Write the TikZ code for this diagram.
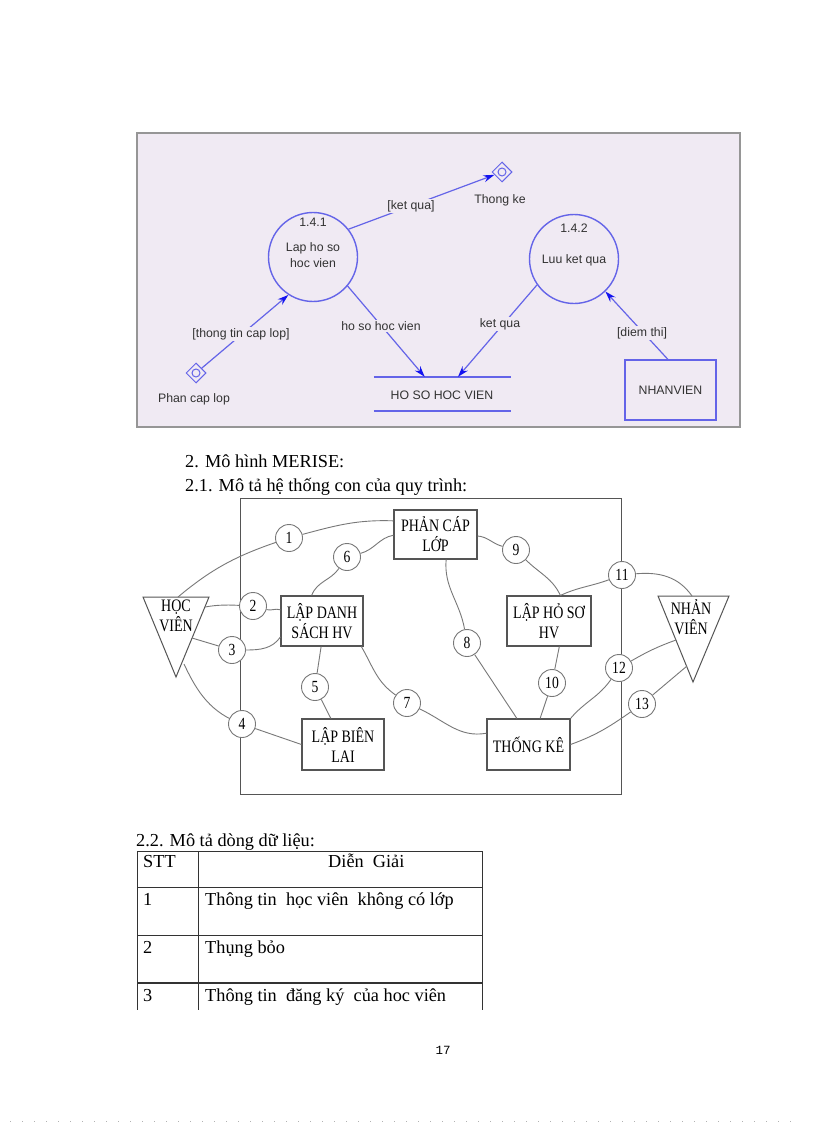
\documentclass[tikz,border=0pt]{standalone}
\usepackage{fontspec}
\setmainfont{Liberation Serif}
\newfontfamily\arialf{Liberation Sans}
\newfontfamily\courf{Liberation Mono}
\usetikzlibrary{shapes.geometric,arrows.meta}

\definecolor{bgp}{RGB}{240,234,243}
\definecolor{dfdblue}{RGB}{100,100,232}
\definecolor{tipblue}{RGB}{20,20,240}
\definecolor{dfdtext}{RGB}{50,50,50}
\definecolor{framec}{RGB}{150,150,150}
\definecolor{lineg}{RGB}{120,120,120}
\definecolor{boxg}{RGB}{85,85,85}

\newcommand{\sqz}[1]{\scalebox{0.8}[1]{#1}}

\tikzset{
 dfdlbl/.style={font=\arialf\fontsize{12.3}{16}\selectfont, text=dfdtext, inner sep=1pt},
 lblbg/.style={dfdlbl, fill=bgp},
 flow/.style={draw=dfdblue, line width=1.2pt, -{Stealth[length=11pt,width=7pt,color=tipblue]}},
 proc/.style={circle, draw=dfdblue, line width=1.4pt, minimum size=89pt, inner sep=0pt},
 ext/.style={diamond, draw=dfdblue, line width=1pt, minimum size=20pt, inner sep=0pt},
 mbox/.style={rectangle, draw=boxg, line width=1.1pt, align=center, font=\fontsize{17.5}{20}\selectfont, inner sep=0pt, fill=white},
 num/.style={circle, draw=lineg, line width=0.9pt, minimum size=27pt, inner sep=0pt, fill=white, font=\fontsize{17}{17}\selectfont},
 link/.style={draw=lineg, line width=0.9pt},
 body/.style={font=\fontsize{18.3}{22}\selectfont, inner sep=0pt, anchor=base west},
 tbl/.style={draw=black!80, line width=1pt},
}

\begin{document}
\begin{tikzpicture}[x=1pt,y=1pt]
\useasboundingbox (0,0) rectangle (816,-1123);
\fill[white] (0,0) rectangle (816,-1123);

% ---------- top DFD ----------
\fill[bgp] (137,-133) rectangle (740,-427);
\draw[framec, line width=1.6pt] (137,-133) rectangle (740,-427);

\node[proc] (p1) at (313,-257) {};
\node[dfdlbl] (p1n) at (313,-222) {1.4.1};
\node[dfdlbl, align=center] (p1t) at (313,-255) {Lap ho so\\hoc vien};

\node[proc] (p2) at (574,-259) {};
\node[dfdlbl] (p2n) at (574,-228) {1.4.2};
\node[dfdlbl] (p2t) at (574,-260) {Luu ket qua};

\node[ext] (d1) at (502,-172) {};
\draw[dfdblue, line width=1pt] (d1.center) circle (4pt);
\node[dfdlbl] (d1t) at (500,-200) {Thong ke};

\node[ext] (d2) at (196,-373) {};
\draw[dfdblue, line width=1pt] (d2.center) circle (4pt);
\node[dfdlbl] (d2t) at (194,-399) {Phan cap lop};

\node[minimum width=137pt, minimum height=34pt, inner sep=0pt] (st) at (442.5,-394) {};
\draw[dfdblue, line width=1.6pt] (st.north west) -- (st.north east) (st.south west) -- (st.south east);
\node[dfdlbl] (stt) at (442,-395) {HO SO HOC VIEN};

\node[rectangle, draw=dfdblue, line width=1.4pt, minimum width=91pt, minimum height=60pt, dfdlbl] (nv) at (670.5,-390) {NHANVIEN};

\draw[flow] (d2) -- (p1.237);
\draw[flow] (p1.38) -- (d1);
\draw[flow] (p1.-40) -- (st.136);
\draw[flow] (p2.215) -- (st.48);
\draw[flow] (nv.95) -- (p2.-46);

\node[lblbg] (l1) at (411,-206) {[ket qua]};
\node[lblbg] (l2) at (241,-334) {[thong tin cap lop]};
\node[lblbg] (l3) at (381,-326) {ho so hoc vien};
\node[lblbg] (l4) at (500,-324) {ket qua};
\node[lblbg] (l5) at (642,-333) {[diem thi]};

% ---------- headings ----------
\node[body] (h1) at (185,-467) {2. Mô hình MERISE:};
\node[body] (h2) at (185,-491) {2.1. Mô tả hệ thống con của quy trình:};

% ---------- MERISE diagram ----------
\draw[boxg, line width=1pt] (240,-498) rectangle (621,-794);

\draw[boxg, line width=1pt] (143,-597) -- (209,-597) -- (176,-677) -- cycle;
\node[align=center, font=\fontsize{17.5}{20}\selectfont, inner sep=0pt] (hv) at (176,-616) {\sqz{HỌC}\\\sqz{VIÊN}};
\coordinate (hvA) at (178,-597);
\coordinate (hvB) at (205,-607);
\coordinate (hvC) at (192,-638);
\coordinate (hvD) at (184,-664);

\draw[boxg, line width=1pt] (658,-596) -- (729,-596) -- (693,-682) -- cycle;
\node[align=center, font=\fontsize{17.5}{20}\selectfont, inner sep=0pt] (nvn) at (691,-617) {\sqz{NHẢN}\\\sqz{VIÊN}};
\coordinate (nvA) at (692,-596);
\coordinate (nvB) at (676,-640);
\coordinate (nvC) at (687,-666);

\node[mbox, minimum width=83pt, minimum height=49pt] (pc) at (435.5,-534.5) {\sqz{PHẢN CÁP}\\\sqz{LỚP}};
\node[mbox, minimum width=82pt, minimum height=50pt] (ld) at (322,-621) {\sqz{LẬP DANH}\\\sqz{SÁCH HV}};
\node[mbox, minimum width=82pt, minimum height=51pt] (lb) at (343,-744.5) {\sqz{LẬP BIÊN}\\\sqz{LAI}};
\node[mbox, minimum width=84pt, minimum height=50pt] (lh) at (549,-621) {\sqz{LẬP HỎ SƠ}\\\sqz{HV}};
\node[mbox, minimum width=83pt, minimum height=51pt] (tk) at (528.5,-744.5) {\sqz{THỐNG KÊ}};

\draw[link] (hvA) to[out=40,in=198] (289,-538);
\draw[link] (hvB) to[out=10,in=178] (253,-606);
\draw[link] (hvD) to[out=-65,in=160] (242,-724);

\node[num] (c1) at (289,-538) {\sqz{1}};
\node[num] (c2) at (253,-606) {\sqz{2}};
\node[num] (c3) at (232,-650) {\sqz{3}};
\node[num] (c4) at (242,-724) {\sqz{4}};
\node[num] (c5) at (315,-687) {\sqz{5}};
\node[num] (c6) at (347,-557) {\sqz{6}};
\node[num] (c7) at (407,-703) {\sqz{7}};
\node[num] (c8) at (467,-643) {\sqz{8}};
\node[num] (c9) at (516,-550) {\sqz{9}};
\node[num] (c10) at (552,-683) {\sqz{10}};
\node[num] (c11) at (622,-575) {\sqz{11}};
\node[num] (c12) at (619,-668) {\sqz{12}};
\node[num] (c13) at (642,-704) {\sqz{13}};

\draw[link] (c1) to[out=15,in=178] (pc.162);
\draw[link] (c2) to[out=-15,in=160] (ld.165);
\draw[link] (hvC) -- (c3);
\draw[link] (c3) to[out=0,in=235] (ld.201);
\draw[link] (c4) -- (lb.west);
\draw[link] (ld.-92) -- (c5);
\draw[link] (c5) -- (lb.115);
\draw[link] (ld.112) to[out=70,in=235] (c6);
\draw[link] (c6) to[out=15,in=190] (pc.181);
\draw[link] (ld.-33) to[out=-60,in=145] (c7);
\draw[link] (c7) to[out=-25,in=190] (tk.165);
\draw[link] (pc.-67) to[out=-95,in=100] (c8);
\draw[link] (c8) -- (tk.114);
\draw[link] (pc.-2) to[out=-5,in=165] (c9);
\draw[link] (c9) to[out=-45,in=115] (lh.66);
\draw[link] (lh.-68) -- (c10);
\draw[link] (c10) -- (tk.66);
\draw[link] (lh.66) to[out=25,in=200] (c11);
\draw[link] (c11) to[out=5,in=125] (nvA);
\draw[link] (tk.north east) to[out=50,in=235] (c12);
\draw[link] (c12) to[out=30,in=200] (nvB);
\draw[link] (tk.east) to[out=20,in=215] (c13);
\draw[link] (c13) -- (nvC);

% ---------- table ----------
\node[body] (t0) at (136,-846) {2.2. Mô tả dòng dữ liệu:};
\draw[tbl] (137,-851) -- (482,-851);
\draw[tbl] (137,-887) -- (482,-887);
\draw[tbl] (137,-935) -- (482,-935);
\draw[tbl, line width=2pt] (137,-983) -- (482,-983);
\draw[tbl] (137,-851) -- (137,-1010);
\draw[tbl] (198,-851) -- (198,-1010);
\draw[tbl] (482,-851) -- (482,-1010);

\node[body] (s0) at (143,-867) {STT};
\node[body] (s1) at (328,-867) {Diễn\ \ Giải};
\node[body] (r1a) at (143,-905) {1};
\node[body] (r1b) at (205,-905) {Thông tin\ \ học viên\ \ không có lớp};
\node[body] (r2a) at (143,-953) {2};
\node[body] (r2b) at (205,-953) {Thụng bỏo};
\node[body] (r3a) at (143,-1001) {3};
\node[body] (r3b) at (205,-1001) {Thông tin\ \ đăng ký\ \ của hoc viên};

\node[font=\courf\fontsize{12.5}{12.5}\selectfont, anchor=base, inner sep=0pt] (pg) at (443,-1054) {17};

\draw[gray!60, line width=0.6pt, dash pattern=on 0.8pt off 11.2pt] (10,-1121) -- (792,-1121);
\end{tikzpicture}
\end{document}
